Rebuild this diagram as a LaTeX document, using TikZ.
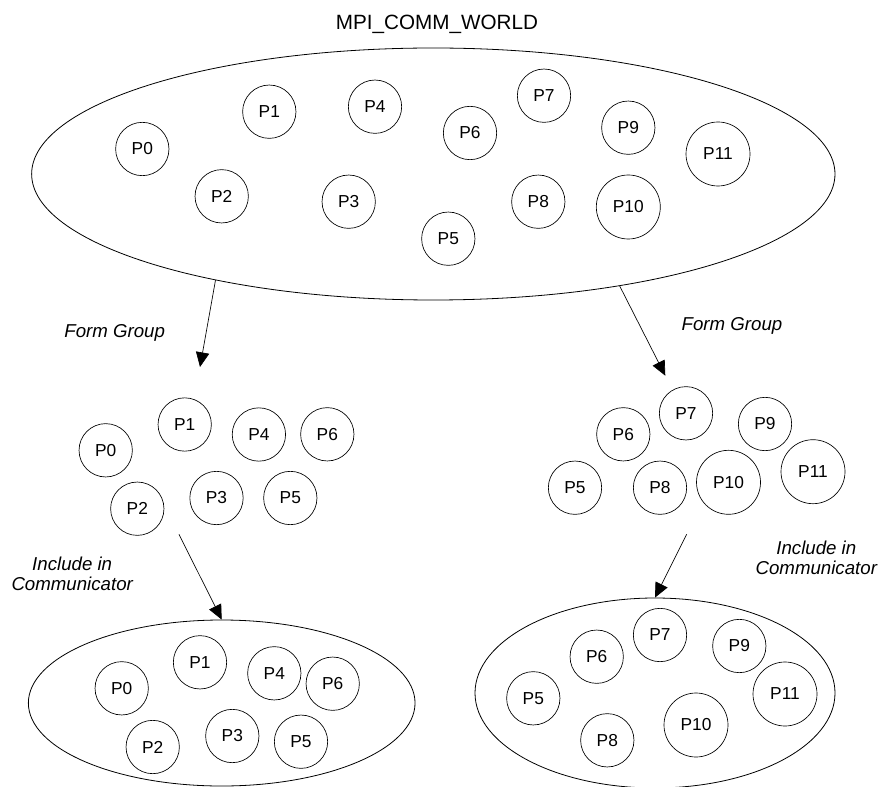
\documentclass[tikz,border=0pt]{standalone}
\usepackage{fontspec}
\setmainfont{Liberation Sans}
\usetikzlibrary{shapes.geometric, arrows.meta}

\begin{document}
\begin{tikzpicture}[x = 0.75pt, y = -0.75pt,
	proc/.style = {draw, circle, line width = 0.5pt, inner sep = 0pt, minimum size = 40pt, font = \fontsize{13}{15}\selectfont},
	bigproc/.style = {proc, minimum size = 48pt},
	wolk/.style = {draw, ellipse, line width = 0.6pt, inner sep = 0pt},
	stap/.style = {font = \fontsize{14}{15}\selectfont\itshape, align = center},
	pijl/.style = {-{Triangle[length = 11pt, width = 10pt]}, line width = 0.5pt}]
				%	canvas
				\useasboundingbox (0, 0) rectangle (880, 787);
				
				%	world
				\node (titel) at (437, 24) {\fontsize{15.5}{18}\selectfont MPI\_COMM\_WORLD};
				\node[wolk, minimum width = 602.5pt, minimum height = 189pt] (world) at (433.3, 174) {};
				\node[proc] (w0) at (142.3, 149) {P0};
				\node[proc] (w1) at (269.3, 111.7) {P1};
				\node[proc] (w2) at (221.7, 196.3) {P2};
				\node[proc] (w3) at (348.7, 201.7) {P3};
				\node[proc] (w4) at (375, 106.7) {P4};
				\node[proc] (w5) at (448.3, 238.7) {P5};
				\node[proc] (w6) at (470, 133) {P6};
				\node[proc] (w7) at (544, 95.7) {P7};
				\node[proc] (w8) at (538.3, 201.7) {P8};
				\node[proc] (w9) at (628.3, 127.7) {P9};
				\node[bigproc] (w10) at (628.3, 207) {P10};
				\node[bigproc] (w11) at (718, 154) {P11};
				
				%	form group
				\coordinate (fgA) at (200, 367);
				\coordinate (fgB) at (665.3, 375.7);
				\draw[pijl] (world.206.8) -- (fgA);
				\draw[pijl] (world.329.5) -- (fgB);
				\node[stap] (formA) at (114.7, 333) {Form Group};
				\node[stap] (formB) at (732, 325.5) {Form Group};
				
				%	groep links
				\node[proc] (a0) at (105.7, 450.3) {P0};
				\node[proc] (a1) at (184.7, 424.5) {P1};
				\node[proc] (a2) at (137.3, 508.7) {P2};
				\node[proc] (a3) at (216.5, 498) {P3};
				\node[proc] (a4) at (258.9, 434.5) {P4};
				\node[proc] (a5) at (290.3, 498) {P5};
				\node[proc] (a6) at (327.3, 434.3) {P6};
				
				%	groep rechts
				\node[proc] (b5) at (575, 487.7) {P5};
				\node[proc] (b6) at (623.3, 434.3) {P6};
				\node[proc] (b7) at (686, 413.3) {P7};
				\node[proc] (b8) at (660, 487.7) {P8};
				\node[proc] (b9) at (765, 424) {P9};
				\node[bigproc] (b10) at (728.5, 482.3) {P10};
				\node[bigproc] (b11) at (813, 471.7) {P11};
				
				%	communicators
				\node[wolk, minimum width = 290pt, minimum height = 124.5pt] (commA) at (221.7, 703) {};
				\node[wolk, minimum width = 270pt, minimum height = 142.5pt] (commB) at (655, 693) {};
				\coordinate (icA) at (179, 534.3);
				\coordinate (icB) at (686.7, 534.3);
				\draw[pijl] (icA) -- (commA.north);
				\draw[pijl] (icB) -- (commB.north);
				\node[stap] (inclA) at (72.2, 573.5) {Include in\\Communicator};
				\node[stap] (inclB) at (816.3, 557.7) {Include in\\Communicator};
				
				\node[proc] (ca0) at (121.7, 688.3) {P0};
				\node[proc] (ca1) at (200, 662.3) {P1};
				\node[proc] (ca2) at (152.7, 747) {P2};
				\node[proc] (ca3) at (232.3, 736) {P3};
				\node[proc] (ca4) at (274.3, 673.3) {P4};
				\node[proc] (ca5) at (301, 741.7) {P5};
				\node[proc] (ca6) at (332.7, 683.7) {P6};
				
				\node[proc] (cb5) at (533.3, 698.3) {P5};
				\node[proc] (cb6) at (596.7, 656.7) {P6};
				\node[proc] (cb7) at (660, 635) {P7};
				\node[proc] (cb8) at (607.3, 740.3) {P8};
				\node[proc] (cb9) at (739.3, 646) {P9};
				\node[bigproc] (cb10) at (696, 725) {P10};
				\node[bigproc] (cb11) at (785, 694) {P11};
\end{tikzpicture}
\end{document}
